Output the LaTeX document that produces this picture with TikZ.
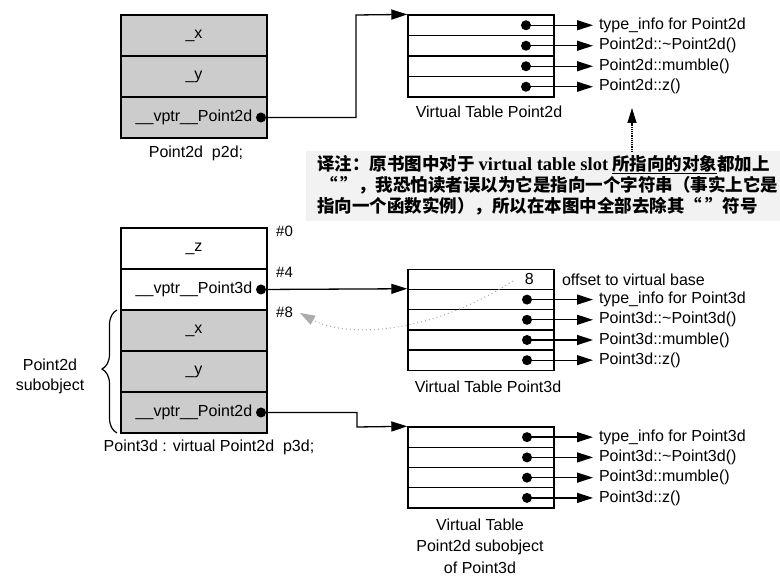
\documentclass[tikz,border=0pt]{standalone}
\usepackage{fontspec}
\setmainfont{Liberation Sans}
\newfontfamily\cjk{Noto Sans CJK SC}
\newfontfamily\romanfont{Liberation Serif}
\usetikzlibrary{arrows.meta,positioning,decorations.pathreplacing}

\tikzset{
  cell/.style={draw, line width=1.6pt, minimum width=146pt, minimum height=41pt, inner sep=0pt, font=\fontsize{16}{18}\selectfont},
  grayc/.style={fill=black!20},
  slot/.style={draw, line width=1.4pt, minimum width=146pt, minimum height=20.3pt, inner sep=0pt},
  pdot/.style={circle, fill, inner sep=0pt, minimum size=10pt},
  ptr/.style={line width=1.3pt, -{Triangle[length=16pt,width=10pt]}},
  fn/.style={anchor=west, inner sep=0pt, outer xsep=6pt, font=\fontsize{16}{18}\selectfont},
  lbl/.style={inner sep=0pt, font=\fontsize{16}{20}\selectfont, align=center},
  ofs/.style={anchor=west, inner sep=0pt, font=\fontsize{15}{17}\selectfont},
}

\begin{document}
\begin{tikzpicture}[x=1pt, y=-1pt]
\useasboundingbox (0,0) rectangle (780,585);

%%p2d
\node[cell, grayc] (px) at (194,35.5) {\_x};
\node[cell, grayc] (py) at (194,76.5) {\_y};
\node[cell, grayc] (pv) at (194,117.5) {\_\_vptr\_\_Point2d};
\node[pdot] (pvd) at (261,117.5) {};
\node[lbl] (pname) at (196,153) {Point2d\ \ p2d;};

%%vtbl Point2d
\foreach \i/\fname in {1/type\_info for Point2d, 2/Point2d::\textasciitilde Point2d(), 3/Point2d::mumble(), 4/Point2d::z()}{
  \node[slot] (ta\i) at (481,4.75+20.5*\i) {};
  \node[pdot] (tad\i) at (526,4.75+20.5*\i) {};
  \node[fn] (taf\i) at (593,4.75+20.5*\i) {\fname};
  \draw[ptr] (tad\i.center) -- (taf\i);
}
\node[lbl] (taname) at (489,112) {Virtual Table Point2d};
\coordinate (bend1) at (356,15);
\draw[ptr] (pvd.center) -| (bend1) -- (ta1.north west);

%%note
\fill[black!5] (306,151) rectangle (780,221);
\node[anchor=west, inner sep=0pt, align=left, font=\cjk\bfseries\fontsize{17.5}{21}\selectfont] (note) at (317,185)
  {译注：原书图中对于 {\romanfont\bfseries\fontsize{18.5}{21}\selectfont virtual table slot} \underline{所指向的对象}都加上\\
   \,“\,”，我恐怕读者误以为它是指向一个字符串（事实上它是\\
   指向一个函数实例），所以在本图中全部去除其“\,”符号};
\coordinate (nup) at (632,152);
\coordinate (ntip) at (632,108);
\draw[line width=1.2pt, densely dotted, -{Triangle[length=15pt,width=9pt]}] (nup) -- (ntip);

%%p3d
\node[cell] (qz) at (194,248.5) {\_z};
\node[cell] (qv3) at (194,289.5) {\_\_vptr\_\_Point3d};
\node[cell, grayc] (qx) at (194,330.5) {\_x};
\node[cell, grayc] (qy) at (194,371.5) {\_y};
\node[cell, grayc] (qv2) at (194,412.5) {\_\_vptr\_\_Point2d};
\node[pdot] (qv3d) at (261,289.5) {};
\node[pdot] (qv2d) at (261,412.5) {};
\node[lbl] (qname) at (209,447) {Point3d : virtual Point2d\ \ p3d;};

\node[ofs] (o0) at (276,231) {\#0};
\node[ofs] (o4) at (276,272) {\#4};
\node[ofs] (o8) at (276,312) {\#8};

%%brace
\coordinate (bb) at (117,433);
\coordinate (bt) at (117,310);
\draw[line width=1.2pt, decorate, decoration={brace, amplitude=15pt, aspect=0.52}] (bb) -- (bt);
\node[lbl] (sub) at (50,376) {Point2d\\subobject};

%%vtbl Point3d
\node[slot] (tb0) at (481,279.4) {};
\node[lbl, anchor=east] (toff) at (534,279.4) {8};
\node[fn, outer xsep=0pt] (toffl) at (562,279.4) {offset to virtual base};
\foreach \i/\fname in {1/type\_info for Point3d, 2/Point3d::\textasciitilde Point3d(), 3/Point3d::mumble(), 4/Point3d::z()}{
  \node[slot] (tb\i) at (481,279.4+20.2*\i) {};
  \node[pdot] (tbd\i) at (527,279.4+20.2*\i) {};
  \node[fn] (tbf\i) at (593,279.4+20.2*\i) {\fname};
  \draw[ptr] (tbd\i.center) -- (tbf\i);
}
\node[lbl] (tbname) at (488,387) {Virtual Table Point3d};
\draw[ptr] (qv3d.center) -- (tb1.north west);

%%offset back to #8
\coordinate (ofs8) at (513,281);
\coordinate (h8) at (300,313);
\draw[gray!65, line width=1.1pt, dash pattern=on 1pt off 3pt, -{Triangle[length=15pt,width=10pt]}]
  (ofs8) .. controls (420,340) and (340,335) .. (h8);

%%vtbl Point2d in Point3d
\foreach \i/\fname in {1/type\_info for Point3d, 2/Point3d::\textasciitilde Point3d(), 3/Point3d::mumble(), 4/Point3d::z()}{
  \node[slot] (tc\i) at (481,416.9+20.25*\i) {};
  \node[pdot] (tcd\i) at (527,416.9+20.25*\i) {};
  \node[fn] (tcf\i) at (593,416.9+20.25*\i) {\fname};
  \draw[ptr] (tcd\i.center) -- (tcf\i);
}
\node[lbl, font=\fontsize{16}{21.5}\selectfont] (tcname) at (480,546) {Virtual Table\\Point2d subobject\\of Point3d};
\coordinate (bend2) at (357,427);
\draw[ptr] (qv2d.center) -| (bend2) -- (tc1.north west);

\end{tikzpicture}
\end{document}
